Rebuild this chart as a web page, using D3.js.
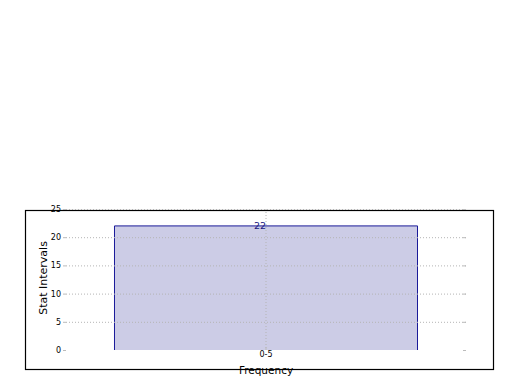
<!DOCTYPE html>
<html lang="en">
<head>
    <meta charset="utf-8">
    <title>Stat Intervals</title>
    <style>
        body { margin: 0; background: #fff; }
        text { font-family: "DejaVu Sans", sans-serif; }
    </style>
</head>
<body>
    <svg id="chart" width="520" height="390"></svg>
    <script src="https://cdn.jsdelivr.net/npm/d3@7"></script>
    <script>
        var categories = ["0-5"];
        var values = [22];
        var yTicks = [0, 5, 10, 15, 20, 25];

        var svg = d3.select("#chart");
        var plotLeft = 66, plotRight = 466, plotTop = 209, plotBottom = 350;

        // outer frame
        svg.append("rect")
            .attr("x", 25.5).attr("y", 210.5)
            .attr("width", 468).attr("height", 159)
            .attr("fill", "none")
            .attr("stroke", "#000")
            .attr("stroke-width", 1.2);

        var x = d3.scaleBand()
            .domain(categories)
            .range([plotLeft, plotRight])
            .paddingInner(0)
            .paddingOuter(0.16);

        var y = d3.scaleLinear()
            .domain([0, 25])
            .range([plotBottom, plotTop]);

        // bars (fill, then outline without the bottom edge)
        svg.selectAll("rect.bar")
            .data(values)
            .enter()
            .append("rect")
            .attr("class", "bar")
            .attr("x", function(d, i) { return x(categories[i]); })
            .attr("y", function(d) { return y(d); })
            .attr("width", x.bandwidth())
            .attr("height", function(d) { return y(0) - y(d); })
            .attr("fill", "#cccce6");

        svg.selectAll("path.barline")
            .data(values)
            .enter()
            .append("path")
            .attr("class", "barline")
            .attr("d", function(d, i) {
                var x0 = x(categories[i]), x1 = x0 + x.bandwidth();
                return d3.line()([[x0, y(0)], [x0, y(d)], [x1, y(d)], [x1, y(0)]]);
            })
            .attr("fill", "none")
            .attr("stroke", "#1a1a99")
            .attr("stroke-width", 1);

        // horizontal grid
        svg.selectAll("line.hgrid")
            .data(yTicks.filter(function(t) { return t > 0; }))
            .enter()
            .append("line")
            .attr("x1", plotLeft).attr("x2", plotRight)
            .attr("y1", function(d) { return y(d) + 0.5; })
            .attr("y2", function(d) { return y(d) + 0.5; })
            .attr("stroke", "#b4b4b4")
            .attr("stroke-dasharray", "1,2");

        // vertical grid
        svg.selectAll("line.vgrid")
            .data(categories)
            .enter()
            .append("line")
            .attr("x1", function(d) { return x(d) + x.bandwidth() / 2; })
            .attr("x2", function(d) { return x(d) + x.bandwidth() / 2; })
            .attr("y1", plotTop).attr("y2", plotBottom)
            .attr("stroke", "#b4b4b4")
            .attr("stroke-dasharray", "1,2");

        // y axes (left labels, right ticks)
        var yAxis = svg.append("g")
            .attr("transform", "translate(" + plotLeft + ",0)")
            .call(d3.axisLeft(y).tickValues(yTicks).tickSize(3).tickPadding(2));
        yAxis.select(".domain").remove();
        yAxis.selectAll(".tick line").attr("stroke", "#bbb");
        yAxis.selectAll("text").attr("font-size", "8px").attr("font-family", "DejaVu Sans").attr("fill", "#000");

        var yAxisR = svg.append("g")
            .attr("transform", "translate(" + plotRight + ",0)")
            .call(d3.axisLeft(y).tickValues(yTicks).tickSize(3).tickFormat(""));
        yAxisR.select(".domain").remove();
        yAxisR.selectAll(".tick line").attr("stroke", "#bbb");

        // x axis
        var xAxis = svg.append("g")
            .attr("transform", "translate(0," + plotBottom + ")")
            .call(d3.axisTop(x).tickSize(3).tickPadding(-10));
        xAxis.select(".domain").remove();
        xAxis.selectAll(".tick line").attr("stroke", "#bbb");
        xAxis.selectAll("text").attr("font-size", "8px").attr("font-family", "DejaVu Sans").attr("fill", "#000");

        // value labels
        svg.selectAll("text.val")
            .data(values)
            .enter()
            .append("text")
            .attr("x", function(d, i) { return x(categories[i]) + x.bandwidth() / 2 - 6; })
            .attr("y", function(d) { return y(d) + 3; })
            .attr("text-anchor", "middle")
            .attr("font-size", "9.5px")
            .attr("fill", "#1a1a80")
            .text(function(d) { return d; });

        // axis titles
        svg.append("text")
            .attr("x", 266).attr("y", 374)
            .attr("text-anchor", "middle")
            .attr("font-size", "10.5px")
            .text("Frequency");

        svg.append("text")
            .attr("transform", "translate(47,278) rotate(-90)")
            .attr("text-anchor", "middle")
            .attr("font-size", "11px")
            .text("Stat Intervals");
    </script>
</body>
</html>
